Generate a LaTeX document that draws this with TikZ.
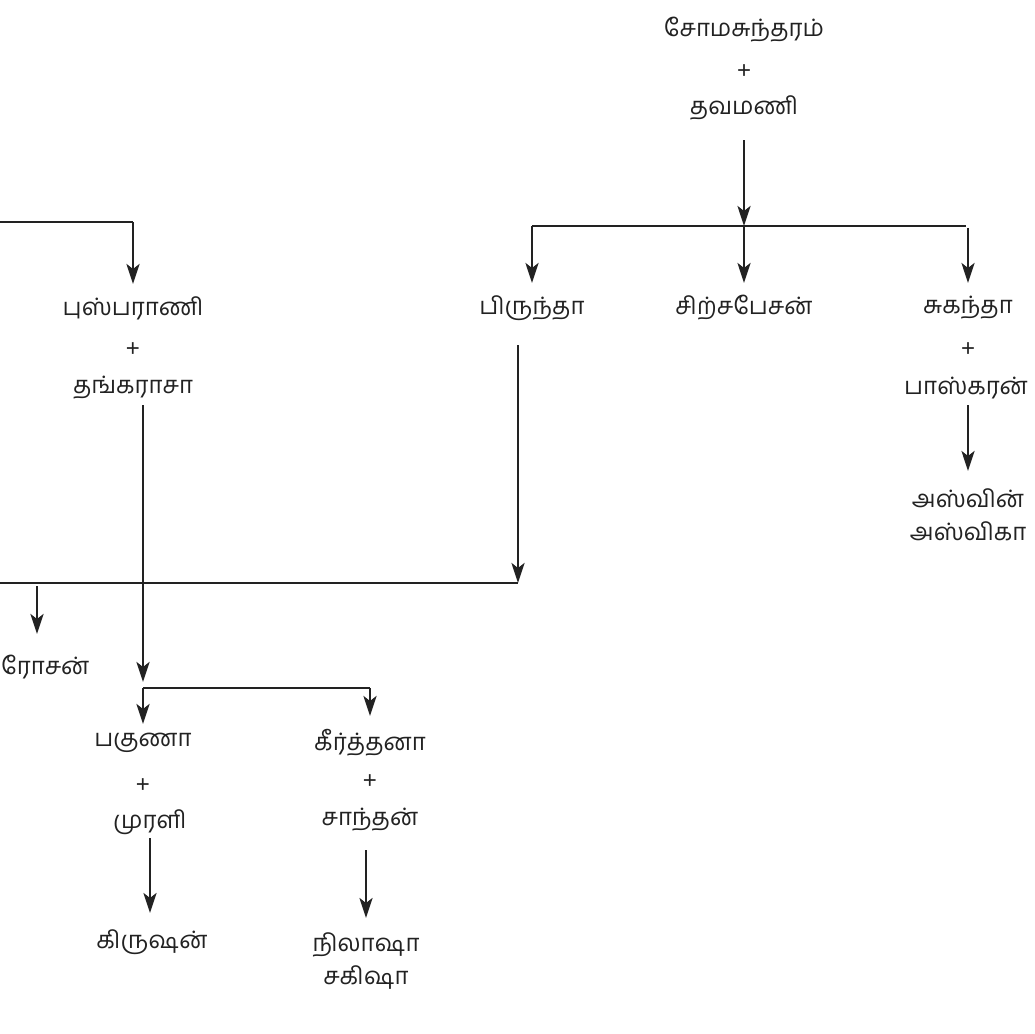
\documentclass[tikz,border=0pt]{standalone}
\usepackage{fontspec}
\newfontfamily\tamil[Script=Tamil]{Hind Madurai}
\newfontfamily\plusfont{Liberation Sans}
\usetikzlibrary{arrows.meta}
\definecolor{ink}{HTML}{222222}
\tikzset{
  person/.style={inner sep=0pt, text=ink, font=\tamil\fontsize{24}{28}\selectfont},
  plus/.style={inner sep=0pt, text=ink, font=\plusfont\fontsize{24}{26}\selectfont},
  link/.style={draw=ink, line width=2.6pt},
  arr/.style={link, -{Stealth[length=20pt,width=13pt,inset=5pt]}},
}
\begin{document}
\begin{tikzpicture}[x=1pt,y=-1pt]
\useasboundingbox (0,0) rectangle (1035,1033);
% top couple
\node[person] (soma) at (744,30) {சோமசுந்தரம்};
\node[plus] (pA) at (744,72) {+};
\node[person] (thava) at (744,108) {தவமணி};
\coordinate (jA) at (744,226);
\coordinate (jAl) at (532,226);
\coordinate (jAr) at (966,226);
\draw[arr] (thava) ++(0,32) -- (jA);
\draw[link] (jAl) -- (jAr);
% children of top couple
\node[person] (pirun) at (532,308) {பிருந்தா};
\node[person] (sirsa) at (744,308) {சிற்சபேசன்};
\node[person] (suka) at (968,308) {சுகந்தா};
\node[plus] (pB) at (968,350) {+};
\node[person] (bhas) at (966,388) {பாஸ்கரன்};
\draw[arr] (jAl) -- ++(0,57);
\draw[arr] (jA) -- ++(0,57);
\draw[arr] (jAr) ++(2,2) -- ++(0,55);
% suka children
\node[person] (aswin) at (968,498) {அஸ்வின்};
\node[person] (aswika) at (968,531) {அஸ்விகா};
\draw[arr] (bhas) ++(2,17) -- ++(0,66);
% left branch
\coordinate (lA) at (0,222);
\coordinate (lAr) at (133,222);
\draw[link] (lA) -- (lAr);
\draw[arr] (lAr) -- ++(0,62);
\node[person] (pushpa) at (133,308) {புஸ்பராணி};
\node[plus] (pC) at (133,350) {+};
\node[person] (thanga) at (133,388) {தங்கராசா};
% second bar
\coordinate (bB) at (0,583);
\coordinate (bBr) at (518,583);
\draw[link] (bB) -- (bBr);
\draw[arr] (pirun) ++(-14,37) -- (bBr);
\coordinate (rosTop) at (37,586);
\draw[arr] (rosTop) -- ++(0,48);
\node[person, anchor=west] (rosan) at (1,667) {ரோசன்};
% thanga line
\coordinate (jC) at (143,688);
\coordinate (jCr) at (370,688);
\draw[arr] (thanga) ++(10,17) -- ++(0,277);
\draw[link] (jC) -- (jCr);
\draw[arr] (jC) -- ++(0,36);
\draw[arr] (jCr) -- ++(0,28);
\node[person] (pakuna) at (143,743) {பகுணா};
\node[plus] (pD) at (143,786) {+};
\node[person] (murali) at (150,822) {முரளி};
\node[person] (kirth) at (370,743) {கீர்த்தனா};
\node[plus] (pE) at (370,782) {+};
\node[person] (santh) at (370,820) {சாந்தன்};
\draw[arr] (murali) ++(0,16) -- ++(0,75);
\node[person] (krish) at (152,942) {கிருஷன்};
\draw[arr] (santh) ++(-4,30) -- ++(0,68);
\node[person] (nila) at (366,945) {நிலாஷா};
\node[person] (sakisha) at (366,978) {சகிஷா};
\end{tikzpicture}
\end{document}
